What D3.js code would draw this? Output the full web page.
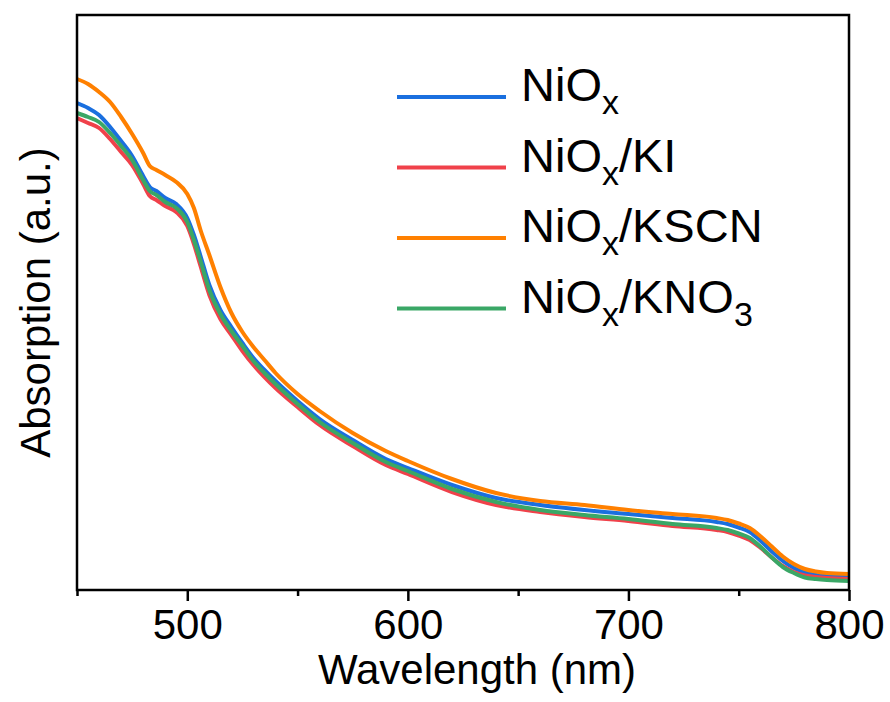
<!DOCTYPE html>
<html>
<head>
    <title>Absorption spectra</title>
    <meta charset="utf-8">
    <style>
        body { margin: 0; background: #fff; }
        text { font-family: "Liberation Sans", Arial, sans-serif; fill: #000; }
    </style>
</head>
<body>

<svg id="svg"></svg>
<script src="https://cdn.jsdelivr.net/npm/d3@7/dist/d3.min.js"></script>
<script>
    const wavelength = [450, 455, 460, 465, 470, 475, 480, 483, 486, 490, 495, 500, 503, 506, 510, 515, 520, 525, 530, 535,
        540, 550, 560, 575, 590, 600, 620, 640, 660, 680, 700, 720, 740, 745, 750, 755, 760, 765, 770, 775, 780, 785, 790, 800]

    const niox = [0.974, 0.964, 0.950, 0.926, 0.898, 0.868, 0.828, 0.806, 0.798, 0.784, 0.772, 0.744, 0.710, 0.668, 0.610, 0.560, 0.526, 0.494, 0.464, 0.440,
        0.418, 0.378, 0.342, 0.300, 0.262, 0.244, 0.210, 0.184, 0.170, 0.160, 0.152, 0.144, 0.136, 0.132, 0.125, 0.116, 0.098, 0.077, 0.058, 0.044, 0.035, 0.030, 0.028, 0.026]
    const nioxKI = [0.944, 0.934, 0.924, 0.902, 0.876, 0.850, 0.812, 0.788, 0.780, 0.768, 0.756, 0.728, 0.692, 0.648, 0.590, 0.542, 0.510, 0.478, 0.450, 0.426,
        0.404, 0.366, 0.330, 0.288, 0.250, 0.232, 0.196, 0.170, 0.156, 0.146, 0.138, 0.128, 0.120, 0.116, 0.109, 0.100, 0.084, 0.065, 0.048, 0.036, 0.029, 0.026, 0.024, 0.022]
    const nioxKSCN = [1.022, 1.012, 0.996, 0.976, 0.946, 0.912, 0.874, 0.848, 0.840, 0.830, 0.816, 0.792, 0.764, 0.720, 0.670, 0.606, 0.554, 0.516, 0.486, 0.460,
        0.434, 0.392, 0.358, 0.314, 0.278, 0.258, 0.222, 0.194, 0.178, 0.170, 0.160, 0.152, 0.144, 0.140, 0.133, 0.124, 0.107, 0.087, 0.067, 0.052, 0.042, 0.037, 0.034, 0.032]
    const nioxKNO3 = [0.954, 0.946, 0.936, 0.914, 0.888, 0.860, 0.820, 0.798, 0.790, 0.776, 0.764, 0.736, 0.700, 0.658, 0.600, 0.552, 0.518, 0.488, 0.458, 0.434,
        0.412, 0.372, 0.336, 0.294, 0.256, 0.238, 0.202, 0.176, 0.160, 0.150, 0.142, 0.132, 0.124, 0.120, 0.113, 0.104, 0.086, 0.065, 0.046, 0.034, 0.025, 0.022, 0.020, 0.018]

    const seriesNames = ['NiO_x', 'NiO_x/KI', 'NiO_x/KSCN', 'NiO_x/KNO_3']
    const seriesValues = [niox, nioxKI, nioxKSCN, nioxKNO3]
    const colors = ['#1a6fdf', '#f0414a', '#ff8000', '#3aa766']

    const majorTicks = [500, 600, 700, 800]
    const minorTicks = [450, 550, 650, 750]

    const WIDTH = 890
    const HEIGHT = 702
    const margin = {top: 15, right: 41, bottom: 112, left: 77}

    const svg = d3.select('svg')
        .attr('width', WIDTH)
        .attr('height', HEIGHT)

    const x = d3.scaleLinear()
        .domain([450, 800])
        .range([margin.left, WIDTH - margin.right])

    const y = d3.scaleLinear()
        .domain([0, 1.15])
        .range([HEIGHT - margin.bottom, margin.top])

    const line = d3.line()
        .x((d) => x(d[0]))
        .y((d) => y(d[1]))
        .curve(d3.curveMonotoneX)

    svg.append('g')
        .attr('class', 'lines')
        .selectAll('path')
        .data(seriesValues)
        .enter().append('path')
        .attr('d', (vals) => line(wavelength.map((w, i) => [w, vals[i]])))
        .attr('fill', 'none')
        .attr('stroke', (d, i) => colors[i])
        .attr('stroke-width', 4)
        .attr('stroke-linejoin', 'round')

    // frame
    svg.append('rect')
        .attr('x', margin.left)
        .attr('y', margin.top)
        .attr('width', WIDTH - margin.left - margin.right)
        .attr('height', HEIGHT - margin.top - margin.bottom)
        .attr('fill', 'none')
        .attr('stroke', '#000')
        .attr('stroke-width', 2.5)

    const xAxis = svg.append('g')
        .attr('transform', `translate(0,${HEIGHT - margin.bottom})`)
        .call(d3.axisBottom(x).tickValues(majorTicks).tickSize(11).tickPadding(8).tickFormat(d3.format('d')))
    xAxis.select('.domain').remove()
    xAxis.selectAll('line').attr('stroke-width', 2.5)
    xAxis.selectAll('text')
        .attr('font-size', 42)
        .attr('font-family', '"Liberation Sans", Arial, sans-serif')

    const xMinor = svg.append('g')
        .attr('transform', `translate(0,${HEIGHT - margin.bottom})`)
        .call(d3.axisBottom(x).tickValues(minorTicks).tickSize(6).tickFormat(''))
    xMinor.select('.domain').remove()
    xMinor.selectAll('line').attr('stroke-width', 2.5)

    svg.append('text')
        .attr('x', 477)
        .attr('y', 684)
        .attr('text-anchor', 'middle')
        .attr('font-size', 42)
        .text('Wavelength (nm)')

    svg.append('text')
        .attr('transform', `translate(50,${(margin.top + HEIGHT - margin.bottom) / 2}) rotate(-90)`)
        .attr('text-anchor', 'middle')
        .attr('font-size', 42)
        .text('Absorption (a.u.)')

    // legend
    const legend = svg.append('g').attr('class', 'legend')
    seriesNames.forEach((name, i) => {
        const ly = 97 + i * 70.5
        legend.append('line')
            .attr('x1', 397).attr('x2', 506)
            .attr('y1', ly).attr('y2', ly)
            .attr('stroke', colors[i])
            .attr('stroke-width', 4)
        const t = legend.append('text')
            .attr('x', 521)
            .attr('y', ly + 17)
            .attr('font-size', 47)
        name.split(/(_.)/).filter((s) => s.length).forEach((part) => {
            if (part[0] === '_') {
                t.append('tspan').attr('dy', 13).attr('font-size', 34).text(part[1])
            } else {
                t.append('tspan').attr('dy', t.selectAll('tspan').size() ? -13 : 0).text(part)
            }
        })
    })
</script>
</body>
</html>
